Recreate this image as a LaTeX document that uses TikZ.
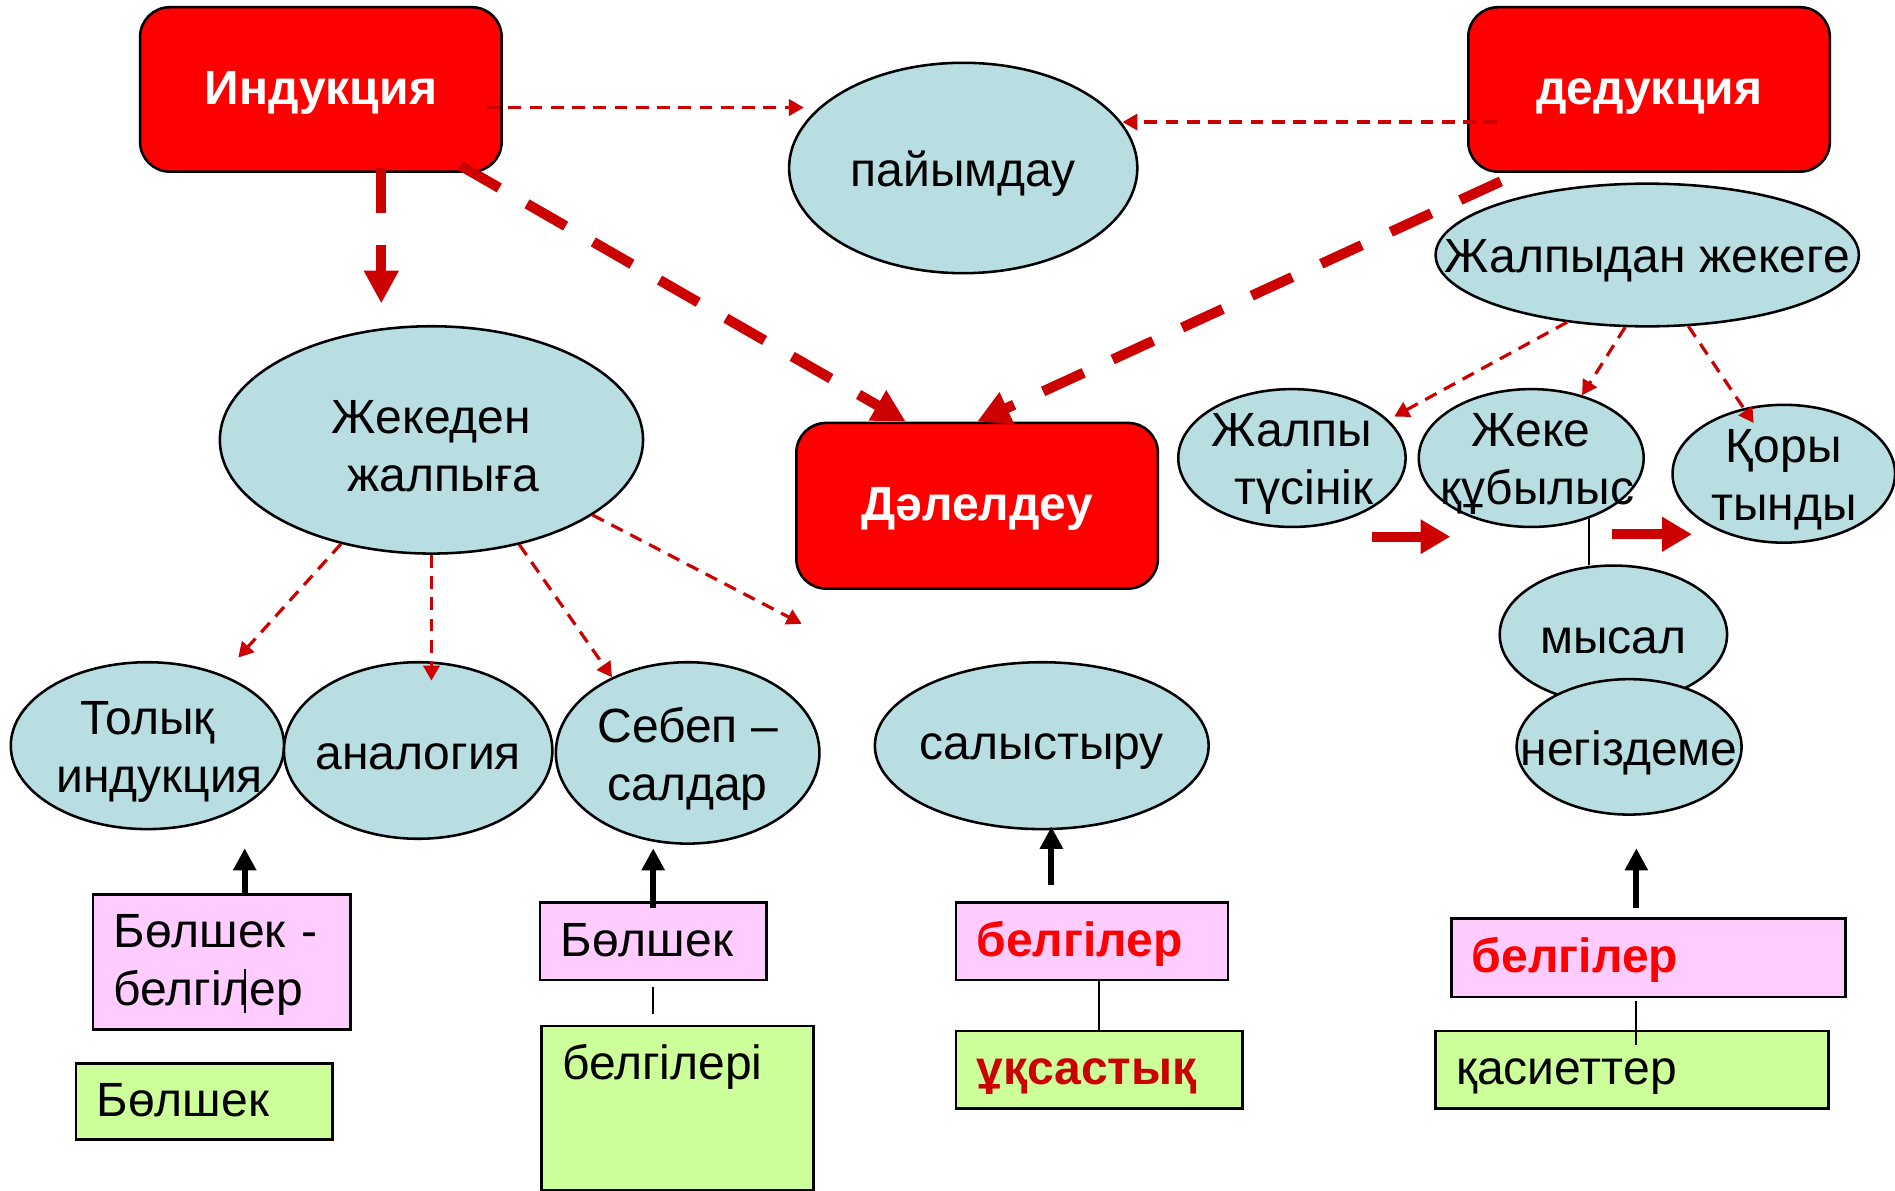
\documentclass[tikz,border=0pt]{standalone}
\usepackage{fontspec}
\setmainfont{Liberation Sans}
\usetikzlibrary{shapes.geometric,arrows.meta,calc}
\definecolor{boxred}{RGB}{255,0,0}
\definecolor{arrowred}{RGB}{204,0,0}
\definecolor{ellblue}{RGB}{185,222,226}
\definecolor{pinkbg}{RGB}{255,204,255}
\definecolor{greenbg}{RGB}{204,255,153}
\newcommand{\diagfont}{\fontsize{11.3}{13.7}\selectfont}
\tikzset{
  redbox/.style={draw=black, line width=0.6pt, fill=boxred, rounded corners=7pt, minimum width=2.99cm, minimum height=1.36cm, text=white, font=\diagfont\bfseries, text height=0.905em, text depth=0.212em},
  ell/.style={ellipse, draw=black, line width=0.6pt, fill=ellblue, inner sep=0pt},
  every label/.style={font=\diagfont, align=center, yshift=-1.4pt},
  pinkbox/.style={draw=black, line width=0.6pt, fill=pinkbg, inner xsep=0.17cm, align=left, font=\diagfont, minimum height=0.64cm, text height=0.905em, text depth=0.212em},
  greenbox/.style={draw=black, line width=0.6pt, fill=greenbg, inner xsep=0.17cm, align=left, font=\diagfont, minimum height=0.64cm, text height=0.905em, text depth=0.212em},
  bigdash/.style={draw=arrowred, line width=2.4pt, dash pattern=on 10.5pt off 7.5pt, -{Triangle[length=7.7pt,width=7.7pt]}},
  thindash/.style={draw=arrowred, line width=0.75pt, dash pattern=on 3pt off 2pt, -{Triangle[length=3.5pt,width=3.8pt]}},
  fatarrow/.style={draw=arrowred, line width=2.4pt, -{Triangle[length=7pt,width=7.7pt]}},
  uparrow/.style={draw=black, line width=1.4pt, -{Triangle[length=5.2pt,width=5.2pt]}}
}
\begin{document}
\begin{tikzpicture}[x=0.01cm, y=-0.01cm]
\useasboundingbox (0,0) rectangle (1568,985);

% top row
\node[redbox] (ind) at (265.5,74) {Индукция};
\node[redbox] (ded) at (1364.5,74) {дедукция};
\node[ell, minimum width=2.88cm, minimum height=1.74cm, label=center:пайымдау] (pay) at (797,139) {};
\node[redbox, minimum height=1.37cm] (dal) at (808.5,418.5) {Дәлелдеу};

% induction side
\node[ell, minimum width=3.5cm, minimum height=1.88cm, label={center:Жекеден\\\hspace*{0.2cm}жалпыға}] (jek) at (357,364) {};
\node[ell, minimum width=2.26cm, minimum height=1.38cm, label={center:Толық\\\hspace*{0.2cm}индукция}] (tol) at (122,617) {};
\node[ell, minimum width=2.22cm, minimum height=1.46cm, label=center:аналогия] (ana) at (346,621) {};
\node[ell, minimum width=2.18cm, minimum height=1.5cm, label={center:Себеп –\\салдар}] (seb) at (569,623) {};
\node[ell, minimum width=2.76cm, minimum height=1.38cm, label=center:салыстыру] (sal) at (862,617) {};

% deduction side
\node[ell, minimum width=3.5cm, minimum height=1.18cm, label=center:Жалпыдан жекеге] (jalp) at (1363,211) {};
\node[ell, minimum width=1.88cm, minimum height=1.14cm, label={center:Жалпы\\\hspace*{0.2cm}түсінік}] (zht) at (1069,379) {};
\node[ell, minimum width=1.86cm, minimum height=1.14cm, label={center:Жеке\\\hspace*{0.1cm}құбылыс}] (jk) at (1267,379) {};
\node[ell, minimum width=1.84cm, minimum height=1.14cm, label={center:Қоры\\тынды}] (kor) at (1476,392) {};
\node[ell, minimum width=1.88cm, minimum height=1.14cm, label=center:мысал] (mys) at (1335,525) {};
\node[ell, minimum width=1.86cm, minimum height=1.12cm, label=center:негіздеме] (neg) at (1348,618) {};

% boxes
\node[pinkbox, text width=1.79cm, minimum height=1.12cm, text depth=16.1pt] (pb1) at (183.5,796) {Бөлшек -\\белгілер};
\node[greenbox, text width=1.78cm, minimum height=0.63cm] (gb1) at (169,911.5) {Бөлшек};
\node[pinkbox, text width=1.53cm] (pb2) at (540.5,779) {Бөлшек};
\node[greenbox, text width=1.91cm, anchor=north west, inner ysep=3.5pt, text height=9pt, text depth=22.7pt] (gb2) at (447,848) {белгілері};
\node[pinkbox, text width=1.91cm, text=boxred, font=\diagfont\bfseries] (pb3) at (903.5,779) {белгілер};
\node[greenbox, text width=2.03cm, text=arrowred, font=\diagfont\bfseries] (gb3) at (909.5,885) {ұқсастық};
\node[pinkbox, text width=2.92cm, minimum height=0.65cm, text=boxred, font=\diagfont\bfseries] (pb4) at (1364,792.5) {белгілер};
\node[greenbox, text width=2.91cm] (gb4) at (1350.5,885) {қасиеттер};

% red arrows
\draw[thindash] ($(ind.east)+(-13,15)$) -- ++(262,0);
\draw[thindash] ($(ded.west)+(25,27)$) -- ++(-310,0);
\draw[bigdash] ($(ind.south)+(50,-4)$) -- ++(0,112);
\draw[bigdash] ($(ind.south east)+(-35,-6)$) -- ($(dal.north)+(-59,0)$);
\draw[bigdash] ($(ded.south west)+(28,7)$) -- (dal.north);

\draw[thindash] (jek.229) -- ++(-85,94);
\draw[thindash] (jek.south) -- ++(0,104);
\draw[thindash] (jek.310) -- (seb.135);
\draw[thindash] (jek.335) -- ++(173,90);

\draw[thindash] (jalp.220) -- ++(-143,78);
\draw[thindash] (jalp.253) -- (jk.51);
\draw[thindash] (jalp.300) -- ++(54,80);
\draw[fatarrow] ($(zht.south)+(66,7)$) -- ++(65,0);
\draw[fatarrow] ($(jk.south)+(67,5)$) -- ++(66,0);
\draw[line width=0.5pt] ($(mys.north)+(-20,1)$) -- ++(0,-41);

% black arrows and links
\draw[uparrow] ($(pb1.north)+(19,0)$) -- ++(0,-37);
\draw[line width=0.4pt] ($(pb1.north)+(19,63)$) -- ++(0,36);
\draw[uparrow] ($(pb2.north)+(0,5)$) -- ++(0,-49);
\draw[line width=0.5pt] ($(pb2.south)+(0,5)$) -- ++(0,22);
\draw[uparrow] ($(sal.south)+(8,45)$) -- ++(0,-48);
\draw[line width=0.5pt] (gb3.north) -- (gb3.north |- pb3.south);
\draw[uparrow] ($(pb4.north)+(-10,-8)$) -- ++(0,-49);
\draw[line width=0.5pt] ($(pb4.south)+(-10,2)$) -- ++(0,37);
\end{tikzpicture}
\end{document}
